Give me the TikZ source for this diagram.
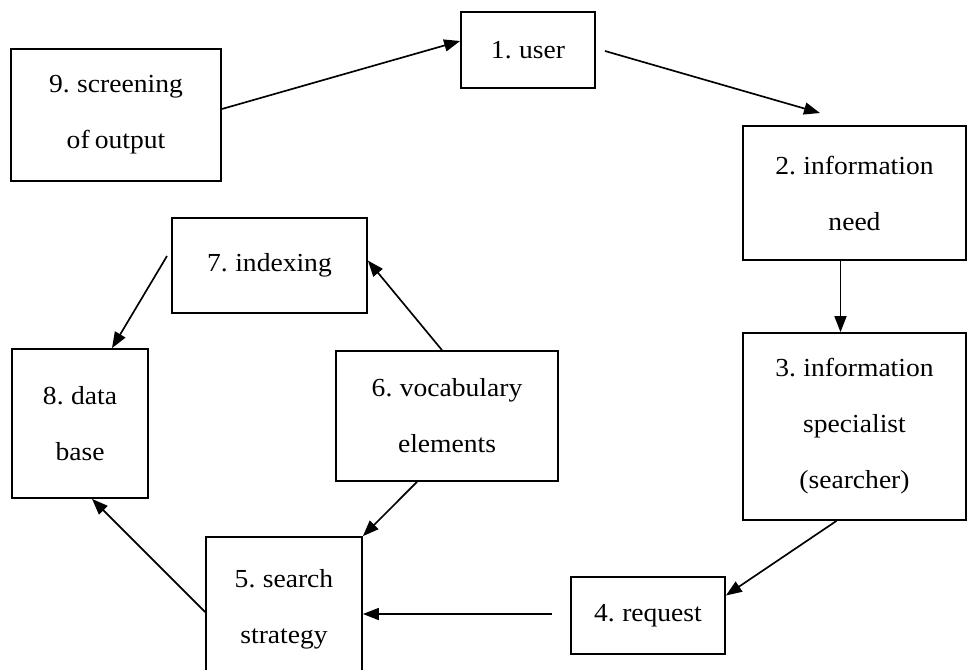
\documentclass[tikz,border=0pt]{standalone}
\usepackage{fontspec}
\setmainfont[FakeStretch=1.06,WordSpace=0.75]{Liberation Serif}
\usetikzlibrary{arrows.meta,calc}
\tikzset{
  boxnode/.style={draw, line width=1.3pt, inner sep=0pt, align=center,
    font=\fontsize{19.5}{42}\selectfont},
  flow/.style={line width=1.25pt, -{Triangle[length=12pt,width=9pt]}}
}
\begin{document}
\begin{tikzpicture}[x=0.75pt,y=-0.75pt]
\clip (0,0) rectangle (975,669);
\fill[white] (0,0) rectangle (975,669);
\node[boxnode, minimum width=100.5pt, minimum height=57pt] (n1) at (528,50) {1. user};
\node[boxnode, minimum width=157.5pt, minimum height=99pt] (n9) at (116,115) {9. screening\\of output};
\node[boxnode, minimum width=167.25pt, minimum height=100.5pt] (n2) at (854.5,193) {2. information\\need};
\node[boxnode, minimum width=167.25pt, minimum height=140.25pt] (n3) at (854.5,426.5) {3. information\\specialist\\(searcher)};
\node[boxnode, minimum width=146.25pt, minimum height=71.25pt] (n7) at (269.5,265.5) {7. indexing};
\node[boxnode, minimum width=102pt, minimum height=111.75pt] (n8) at (80,423.5) {8. data\\base};
\node[boxnode, minimum width=166.5pt, minimum height=97.5pt] (n6) at (447,416) {6. vocabulary\\elements};
\node[boxnode, minimum width=117pt, minimum height=108pt] (n5) at (284,609) {5. search\\strategy};
\node[boxnode, minimum width=115.5pt, minimum height=57.75pt] (n4) at (648,615.5) {4. request};
\coordinate (c1a) at (605,51);
\coordinate (c2a) at (820,113);
\coordinate (c4a) at (552,614);
\coordinate (c7a) at (167,256);
\draw[flow] ($(n9.east)+(0,-6)$) -- ($(n1.west)+(0,-9)$);
\draw[flow] (c1a) -- (c2a);
\draw[flow] ($(n2.south)+(-14,0)$) -- ($(n3.north)+(-14,0)$);
\draw[flow] ($(n3.south)+(-18,0)$) -- ($(n4.east)+(0,-20)$);
\draw[flow] (c4a) -- ($(n5.east)+(0,5)$);
\draw[flow] ($(n6.south)+(-30,0)$) -- (n5.north east);
\draw[flow] ($(n5.west)+(0,3)$) -- ($(n8.south)+(12,0)$);
\draw[flow] ($(n6.north)+(-5,0)$) -- ($(n7.east)+(0,-5)$);
\draw[flow] (c7a) -- ($(n8.north)+(32,0)$);
\end{tikzpicture}
\end{document}
